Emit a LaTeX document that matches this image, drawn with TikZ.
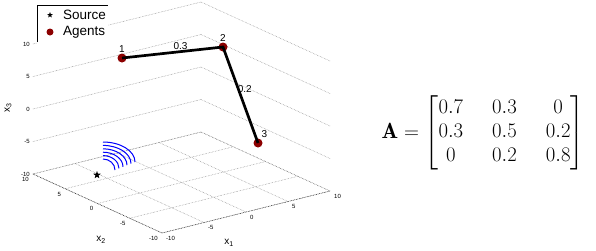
\documentclass[tikz,border=0pt]{standalone}
\usepackage{amsmath}
\usepackage{fontspec}
\newfontfamily\helv{Liberation Sans}
\usetikzlibrary{shapes.geometric}
\definecolor{agentred}{rgb}{0.55,0,0}

\begin{document}
\begin{tikzpicture}[x=1pt, y=-1pt,
    gridline/.style={black!50, densely dotted, line width=0.5pt},
    axisline/.style={black!85, densely dotted, line width=0.6pt},
    ticklabel/.style={font=\helv\fontsize{6}{6}\selectfont, inner sep=0pt},
    axlabel/.style={font=\helv\fontsize{10}{10}\selectfont, inner sep=0pt},
    agent/.style={circle, fill=agentred, inner sep=0pt, minimum size=9pt},
    link/.style={line width=2.7pt, black},
    wlabel/.style={font=\helv\fontsize{10}{10}\selectfont, inner sep=1pt},
    legtext/.style={font=\helv\fontsize{13.5}{13.5}\selectfont, inner sep=0pt, anchor=west},
    srcstar/.style={star, star points=5, star point ratio=2.4, fill=black, inner sep=0pt}]
  \useasboundingbox (0,0) rectangle (596,250);

  % axes box: x1, x2, x3 from -10 to 10
  \begin{scope}[shift={(181.5,117.5)}, x={(8.4pt,2.1pt)}, y={(-6.45pt,2.95pt)}, z={(0pt,6.5pt)}]
    \foreach \a in {-10,-5,0,5,10} {
      \draw[gridline] (\a,-10,-10) -- (\a,10,-10);
      \draw[gridline] (-10,\a,-10) -- (10,\a,-10);
      \draw[gridline] (-10,10,\a) -- (10,10,\a);
      \draw[gridline] (10,-10,\a) -- (10,10,\a);
      \node[ticklabel, anchor=east, xshift=-3pt] at (-10,10,\a) {\a};
      \node[ticklabel, anchor=north east, xshift=-4pt, yshift=-3pt] at (-10,\a,-10) {\a};
      \node[ticklabel, anchor=north west, xshift=4pt, yshift=-3pt] at (\a,-10,-10) {\a};
    }
    \draw[axisline] (-10,10,-10) -- (-10,-10,-10) -- (10,-10,-10);
  \end{scope}

  \node[axlabel, rotate=90] (lx3) at (8,108) {x\textsubscript{3}};
  \node[axlabel] (lx2) at (101,240) {x\textsubscript{2}};
  \node[axlabel] (lx1) at (229,243) {x\textsubscript{1}};

  % legend
  \fill[white] (37,5) rectangle (108,44);
  \draw[line width=0.5pt] (37,42) -- (37,5) -- (108,5);
  \node[srcstar, minimum size=6pt] (lsrc) at (50,15) {};
  \node[legtext] at (63,15) {Source};
  \node[agent, minimum size=7pt] (lagent) at (50,32) {};
  \node[legtext] at (63,32) {Agents};

  % source and its signal
  \node[srcstar, minimum size=8pt] (src) at (97,175) {};
  \foreach \i in {0,...,5}
    \draw[blue, line width=1pt] ([shift={(6,-16-3.4*\i)}]src.center)
      arc[start angle=90, end angle=0, x radius={(12+4*\i)*1pt}, y radius={(11+1.8*\i)*1pt}];

  % agents
  \node[agent, label={[wlabel]above:1}] (a1) at (122,58) {};
  \node[agent, label={[wlabel]above:2}] (a2) at (223,47) {};
  \node[agent, label={[wlabel]60:3}] (a3) at (258,143) {};
  \draw[link] (a1.center) -- node[wlabel, pos=0.58, above] {0.3} (a2.center)
    -- node[wlabel, pos=0.44, right, xshift=-3pt] {0.2} (a3.center);

  \node[font=\fontsize{22}{24}\selectfont, inner sep=0pt] (mat) at (483,133)
    {$\setlength{\arraycolsep}{14.5pt}\mathbf{A} = \begin{bmatrix} 0.7 & 0.3 & 0\\ 0.3 & 0.5 & 0.2\\ 0 & 0.2 & 0.8 \end{bmatrix}$};
\end{tikzpicture}
\end{document}
